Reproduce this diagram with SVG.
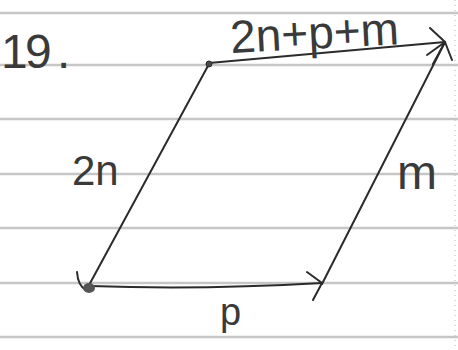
<svg xmlns="http://www.w3.org/2000/svg" width="458" height="350" viewBox="0 0 458 350">
  <style>
    .rule { stroke: #c6c6c6; stroke-width: 2.5; fill: none; }
    .edge { stroke: #c0c0c0; stroke-width: 1.2; stroke-dasharray: 1 4; fill: none; }
    .pen { stroke: #2b2b2b; stroke-width: 2; fill: none; stroke-linecap: round; stroke-linejoin: round; }
    .hand { font-family: "Liberation Sans", "DejaVu Sans", sans-serif; fill: #3a3a3a; }
  </style>
  <rect width="458" height="350" fill="#ffffff"/>
  <g id="paper">
    <line class="rule" x1="0" y1="13" x2="458" y2="13"/>
    <line class="rule" x1="0" y1="65" x2="458" y2="65"/>
    <line class="rule" x1="0" y1="119" x2="458" y2="119"/>
    <line class="rule" x1="0" y1="174" x2="458" y2="174"/>
    <line class="rule" x1="0" y1="228" x2="458" y2="228"/>
    <line class="rule" x1="0" y1="283" x2="458" y2="283"/>
    <line class="rule" x1="0" y1="337" x2="458" y2="337"/>
    <line class="edge" x1="455" y1="0" x2="455" y2="350"/>
  </g>
  <g id="title">
    <text class="hand" font-size="48" x="1 25 57" y="68">19.</text>
  </g>
  <g id="connectors">
    <path id="vec-2n" class="pen" d="M209,64 L88,287"/>
    <path id="vec-p" class="pen" stroke-width="2.6" d="M90,286 Q200,290 322,283"/>
    <path id="vec-m" class="pen" d="M322,284 L445,42"/>
    <path id="vec-sum" class="pen" d="M209,63 L445,42"/>
    <path id="head-2n" class="pen" d="M77,272 Q78,286 86,290"/>
    <path id="head-p" class="pen" d="M307,272 L322,283 L313,300"/>
    <path id="head-sum" class="pen" d="M430,28 L445,42 L427,55 M445,42 L433,64 M445,42 L452,60"/>
  </g>
  <g id="point-start">
    <circle cx="209" cy="64" r="3" fill="#4a4a4a" stroke="#2b2b2b" stroke-width="1"/>
  </g>
  <g id="point-corner">
    <ellipse cx="89" cy="288" rx="6" ry="5" fill="#555555"/>
  </g>
  <g id="label-sum">
    <text class="hand" font-size="46" x="231" y="53" transform="rotate(-3 231 53)">2n+p+m</text>
  </g>
  <g id="label-2n">
    <text class="hand" font-size="42" x="72" y="185">2n</text>
  </g>
  <g id="label-m">
    <text class="hand" font-size="48" x="397" y="189">m</text>
  </g>
  <g id="label-p">
    <text class="hand" font-size="38" x="220" y="325">p</text>
  </g>
</svg>
